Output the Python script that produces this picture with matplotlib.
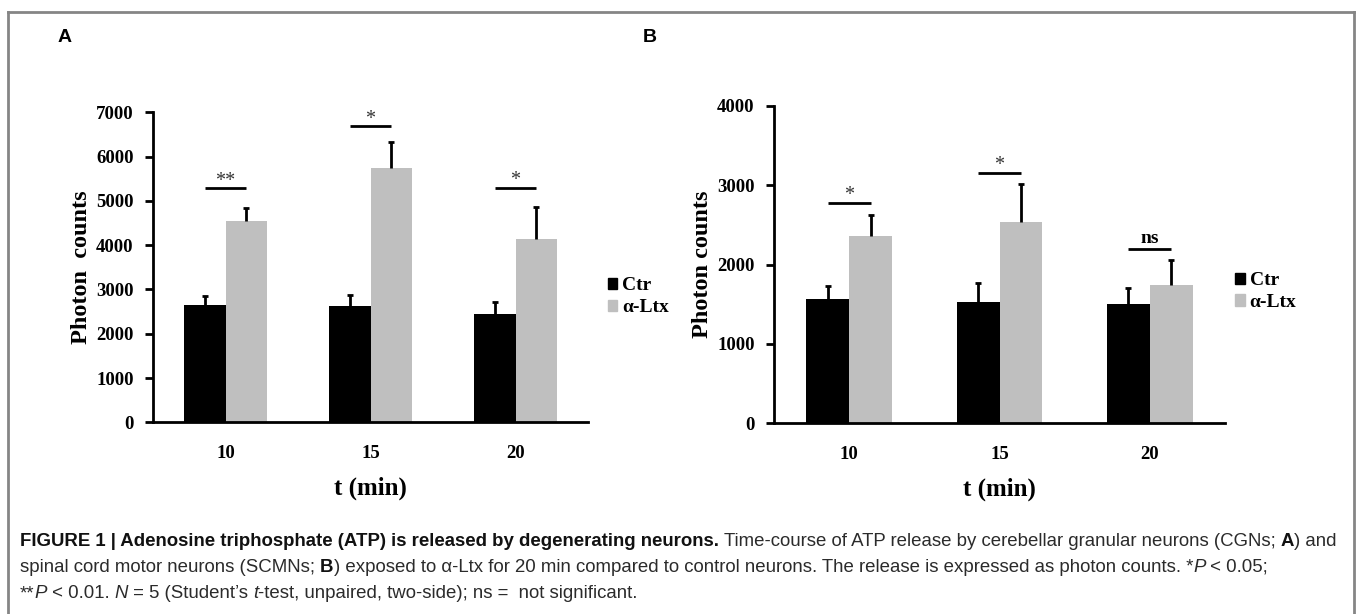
import matplotlib
matplotlib.use("Agg")
import matplotlib.pyplot as plt
from matplotlib.lines import Line2D
from matplotlib.patches import Patch
from matplotlib.transforms import IdentityTransform
import numpy as np

# ---- data ----
times = ["10", "15", "20"]

ctr_a = [2640, 2620, 2450]
ctr_a_err = [205, 250, 260]
ltx_a = [4545, 5740, 4130]
ltx_a_err = [305, 580, 730]
sig_a = ["**", "*", "*"]
sig_a_y = [5280, 6680, 5300]

ctr_b = [1562, 1528, 1502]
ctr_b_err = [171, 235, 206]
ltx_b = [2363, 2535, 1742]
ltx_b_err = [260, 475, 311]
sig_b = ["*", "*", "ns"]
sig_b_y = [2770, 3156, 2199]

SERIF = "Liberation Serif"
SANS = "Liberation Sans"
GREY = "#bfbfbf"
W = 0.285

fig = plt.figure(figsize=(13.57, 6.14), dpi=100)


def up_err(ax, xs, ys, errs):
    # only the upper half of the error bar, cap on top
    _, caps, _ = ax.errorbar(xs, ys, yerr=[np.zeros(len(ys)), errs], fmt="none",
                             ecolor="black", elinewidth=2, capsize=2.5, capthick=2, zorder=3)
    caps[0].set_visible(False)


def panel(rect, ctr, ctr_err, ltx, ltx_err, sig, sig_y, ymax, ystep, ylabel, leg_anchor, star_off):
    ax = fig.add_axes(rect)
    x = np.arange(len(times))
    ax.bar(x - W / 2, ctr, W, color="black", zorder=2)
    ax.bar(x + W / 2, ltx, W, color=GREY, zorder=2)
    up_err(ax, x - W / 2, ctr, ctr_err)
    up_err(ax, x + W / 2, ltx, ltx_err)
    # significance bars
    for i in range(len(times)):
        ax.plot([x[i] - W / 2, x[i] + W / 2], [sig_y[i], sig_y[i]], color="black", lw=2,
                solid_capstyle="butt")
        if sig[i] == "ns":
            ax.text(x[i], sig_y[i] + star_off * 1.4, "ns", ha="center", va="center",
                    family=SERIF, weight="bold", fontsize=14)
        else:
            ax.text(x[i], sig_y[i] + star_off, sig[i], ha="center", va="center",
                    family=SERIF, fontsize=14.5, color="#333333")
    ax.set_xlim(-0.5, 2.5)
    ax.set_ylim(0, ymax)
    ax.set_yticks(np.arange(0, ymax + 1, ystep))
    ax.set_xticks(x)
    ax.set_xticklabels(times)
    for s in ["top", "right"]:
        ax.spines[s].set_visible(False)
    for s in ["left", "bottom"]:
        ax.spines[s].set_linewidth(2)
    ax.tick_params(axis="y", direction="out", length=6, width=2, pad=8)
    ax.tick_params(axis="x", length=0, pad=16)
    for lab in ax.get_xticklabels() + ax.get_yticklabels():
        lab.set_family(SERIF)
        lab.set_weight("bold")
        lab.set_fontsize(13.5)
    ax.set_xlabel("t (min)", family=SERIF, weight="bold", fontsize=18, labelpad=11)
    ax.set_ylabel(ylabel, family=SERIF, weight="bold", fontsize=17.5, labelpad=3)
    handles = [Patch(color="black", label="Ctr"), Patch(color=GREY, label="α-Ltx")]
    ax.legend(handles=handles, loc="center left", bbox_to_anchor=leg_anchor, frameon=False,
              handlelength=0.5, handleheight=0.5, handletextpad=0.25, labelspacing=0.25,
              borderpad=0, borderaxespad=0,
              prop={"family": SERIF, "weight": "bold", "size": 14})
    return ax


panel([153 / 1357, 191.7 / 614, 435 / 1357, 310 / 614], ctr_a, ctr_a_err, ltx_a, ltx_a_err,
      sig_a, sig_a_y, 7000, 1000, "Photon  counts", (1.045, 0.405), 160)
panel([774 / 1357, 190.7 / 614, 451 / 1357, 317.6 / 614], ctr_b, ctr_b_err, ltx_b, ltx_b_err,
      sig_b, sig_b_y, 4000, 1000, "Photon counts", (1.022, 0.415), 95)

# panel letters
fig.text(65 / 1357, 1 - 38 / 614, "A", family=SANS, weight="bold", fontsize=14,
         ha="center", va="center")
fig.text(650 / 1357, 1 - 38 / 614, "B", family=SANS, weight="bold", fontsize=14,
         ha="center", va="center")

# frame around the figure
fc = "#858585"
for xs, ys in [([8, 8], [0, 602]), ([8, 1354], [602, 602]), ([1354, 1354], [0, 602])]:
    fig.add_artist(Line2D([v / 1357 for v in xs], [v / 614 for v in ys], color=fc, lw=2))

# caption with mixed styles
CAP_SIZE = 13.45
CAP_COL = "#2b2b2b"
styles = {"b": dict(weight="bold", color="#111111"), "n": dict(color=CAP_COL),
          "i": dict(style="italic", color=CAP_COL)}
caption = [
    [("FIGURE 1 | Adenosine triphosphate (ATP) is released by degenerating neurons. ", "b"),
     ("Time-course of ATP release by cerebellar granular neurons (CGNs; ", "n"),
     ("A", "b"), (") and", "n")],
    [("spinal cord motor neurons (SCMNs; ", "n"), ("B", "b"),
     (") exposed to α-Ltx for 20 min compared to control neurons. The release is expressed as photon counts. *", "n"),
     ("P", "i"), (" < 0.05;", "n")],
    [("**", "n"), ("P", "i"), (" < 0.01. ", "n"), ("N", "i"), (" = 5 (Student’s ", "n"),
     ("t", "i"), ("-test, unpaired, two-side); ns =  not significant.", "n")],
]
line_y = [541, 567, 594]

renderer = fig.canvas.get_renderer()


def advance(txt, st):
    # width incl. trailing spaces, measured against a bar glyph
    t1 = fig.text(0, 0, txt + "|", fontsize=CAP_SIZE, family=SANS, **styles[st])
    t2 = fig.text(0, 0, "|", fontsize=CAP_SIZE, family=SANS, **styles[st])
    w = t1.get_window_extent(renderer).width - t2.get_window_extent(renderer).width
    t1.remove()
    t2.remove()
    return w


for pieces, yy in zip(caption, line_y):
    xx = 20
    for txt, st in pieces:
        fig.text(xx, 614 - yy, txt, fontsize=CAP_SIZE, family=SANS,
                 va="center", ha="left", transform=IdentityTransform(), **styles[st])
        xx += advance(txt, st)

fig.savefig("out.png", dpi=100)
